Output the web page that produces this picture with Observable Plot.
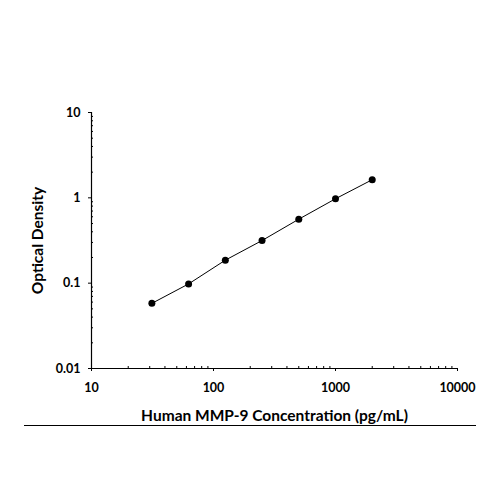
<!DOCTYPE html>
<html><head><meta charset="utf-8">
<script src="https://cdn.jsdelivr.net/npm/d3@7"></script>
<script src="https://cdn.jsdelivr.net/npm/@observablehq/plot@0.6"></script>
<style>body{margin:0;background:#fff}</style>
</head><body><div id="chart"></div>
<script>
const concentration = [31.25, 62.5, 125, 250, 500, 1000, 2000];
const opticalDensity = [0.058, 0.098, 0.186, 0.316, 0.562, 0.975, 1.63];
const xMajorTicks = [10, 100, 1000, 10000];
const yMajorTicks = [0.01, 0.1, 1, 10];
const xLabel = "Human MMP-9 Concentration (pg/mL)";
const yLabel = "Optical Density";

const data = concentration.map((c, i) => ({c, od: opticalDensity[i]}));
const minors = (lo, hi) => {
  const out = [];
  for (let d = lo; d < hi; d *= 10) for (let k = 2; k < 10; k++) out.push(d * k);
  return out;
};
const xMinor = minors(10, 10000);
const yMinor = minors(0.01, 10);

const font = "Lato, sans-serif";
const chart = Plot.plot({
  width: 500, height: 500,
  marginLeft: 91, marginRight: 43, marginTop: 112, marginBottom: 132,
  style: {fontFamily: font, fontSize: "12.5px", fontWeight: 700, color: "#000", background: "#fff"},
  x: {type: "log", domain: [10, 10000]},
  y: {type: "log", domain: [0.01, 10]},
  marks: [
    Plot.axisX(xMajorTicks, {anchor: "bottom", tickSize: 3, tickPadding: 12, tickFormat: d => String(d),
      label: xLabel, labelAnchor: "center", labelArrow: "none", labelOffset: 52}),
    Plot.axisX(xMinor, {anchor: "bottom", tickSize: 2, dy: -2, tickFormat: () => "", label: null}),
    Plot.axisY(yMajorTicks, {anchor: "left", tickSize: 3, tickPadding: 8, tickFormat: d => String(d),
      label: yLabel, labelAnchor: "center", labelArrow: "none", labelOffset: 60}),
    Plot.axisY(yMinor, {anchor: "left", tickSize: 2, dx: 2, tickFormat: () => "", label: null}),
    Plot.ruleX([10], {stroke: "#000", strokeWidth: 1.2}),
    Plot.ruleY([0.01], {stroke: "#000", strokeWidth: 1.2}),
    Plot.line(data, {x: "c", y: "od", stroke: "#000", strokeWidth: 1}),
    Plot.dot(data, {x: "c", y: "od", r: 3.5, fill: "#000", stroke: "none"})
  ]
});
document.getElementById("chart").appendChild(chart);
const svg = d3.select(chart);
svg.selectAll("[aria-label='x-axis label'] text, [aria-label='y-axis label'] text")
  .style("font-size", "15.5px").style("font-weight", 700);
svg.append("line").attr("x1", 24).attr("x2", 476).attr("y1", 425.5).attr("y2", 425.5)
  .attr("stroke", "#000").attr("stroke-width", 1);
</script>
</body></html>
